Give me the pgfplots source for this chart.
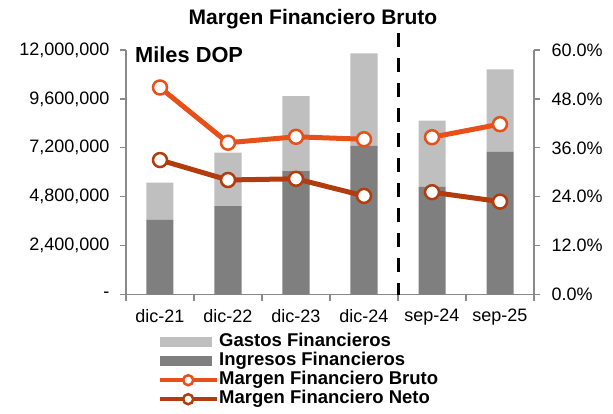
\documentclass[border=0pt]{standalone}
\usepackage{fontspec}
\setmainfont{Liberation Sans}
\usepackage{pgfplots}
\pgfplotsset{compat=1.18}
\definecolor{lgray}{HTML}{BFBFBF}
\definecolor{dgray}{HTML}{7F7F7F}
\definecolor{bruto}{HTML}{E8501A}
\definecolor{neto}{HTML}{B23C0E}
\definecolor{axgray}{HTML}{8A8A8A}
\pgfplotsset{
  baseax/.style={
    scale only axis, width=408pt, height=244.5pt,
    at={(126pt,118.5pt)}, anchor=south west,
    xmin=-0.5, xmax=5.5,
    axis line style={draw=axgray, line width=1.3pt},
    tick style={draw=axgray, line width=1.3pt},
    major tick length=6pt, tick align=outside,
    ticklabel style={font=\fontsize{18}{20}\selectfont},
    /pgf/number format/assume math mode=true,
    scaled y ticks=false,
    clip=false,
  },
  barleg/.style={legend image code/.code={\draw[##1, draw=none] (0pt,-5pt) rectangle (52pt,5pt);}},
  lineleg/.style={legend image code/.code={\draw[mark repeat=2, mark phase=2, ##1, line width=4pt, mark size=5pt] plot coordinates {(0pt,0pt) (28pt,0pt) (57pt,0pt)};}},
}
\begin{document}
\begin{tikzpicture}
\path[use as bounding box] (0pt,0pt) rectangle (613pt,413pt);
\begin{axis}[baseax,
  ybar stacked, bar width=27pt,
  ymin=0, ymax=12000000,
  axis x line*=bottom, axis y line*=left,
  xtick={-0.5,0.5,...,5.5}, x tick label as interval,
  xticklabels={dic-21,dic-22,dic-23,dic-24,sep-24,sep-25},
  xticklabel style={yshift=-5pt},
  yticklabel style={xshift=-7pt},
  ytick={0,2400000,4800000,7200000,9600000,12000000},
  yticklabels={-,{2,400,000},{4,800,000},{7,200,000},{9,600,000},{12,000,000}},
]
\addplot[fill=dgray, draw=none] coordinates {(0,3660000) (1,4340000) (2,6060000) (3,7300000) (4,5280000) (5,7010000)};
\addplot[fill=lgray, draw=none] coordinates {(0,1830000) (1,2620000) (2,3680000) (3,4540000) (4,3250000) (5,4040000)};
\draw[black, line width=3pt, dash pattern=on 14pt off 11pt] (axis cs:3.5,12830000) -- (axis cs:3.5,0);
\end{axis}
\begin{axis}[baseax,
  ymin=0, ymax=60,
  axis y line*=right, hide x axis,
  ytick={0,12,24,36,48,60},
  yticklabels={0.0\%,12.0\%,24.0\%,36.0\%,48.0\%,60.0\%},
  yticklabel style={xshift=8pt},
  unbounded coords=jump,
  legend style={draw=none, fill=none, at={(0.0784,-0.1595)}, anchor=north west,
    inner sep=0pt, row sep=2pt,
    font=\bfseries\fontsize{18.5}{20}\selectfont,
    nodes={inner sep=0pt, text height=13pt, text depth=4pt},
    /tikz/every even column/.append style={column sep=9pt}},
  legend cell align=left,
]
\addlegendimage{barleg, fill=lgray}
\addlegendentry{Gastos Financieros}
\addlegendimage{barleg, fill=dgray}
\addlegendentry{Ingresos Financieros}
\addplot[lineleg, color=bruto, line width=5pt, mark=*, mark size=7pt, mark options={fill=white, draw=bruto, line width=2.5pt}]
  coordinates {(0,50.8) (1,37.25) (2,38.7) (3,38.1) (3.5,nan) (4,38.6) (5,41.8)};
\addlegendentry{Margen Financiero Bruto}
\addplot[lineleg, color=neto, line width=5pt, mark=*, mark size=7pt, mark options={fill=white, draw=neto, line width=2.5pt}]
  coordinates {(0,33.0) (1,28.1) (2,28.4) (3,24.2) (3.5,nan) (4,25.1) (5,22.8)};
\addlegendentry{Margen Financiero Neto}
\end{axis}
\node[font=\bfseries\fontsize{21}{24}\selectfont] at (313pt,394pt) {Margen Financiero Bruto};
\node[font=\bfseries\fontsize{21.8}{24}\selectfont, anchor=west, inner sep=0pt] at (135pt,358pt) {Miles DOP};
\end{tikzpicture}
\end{document}
